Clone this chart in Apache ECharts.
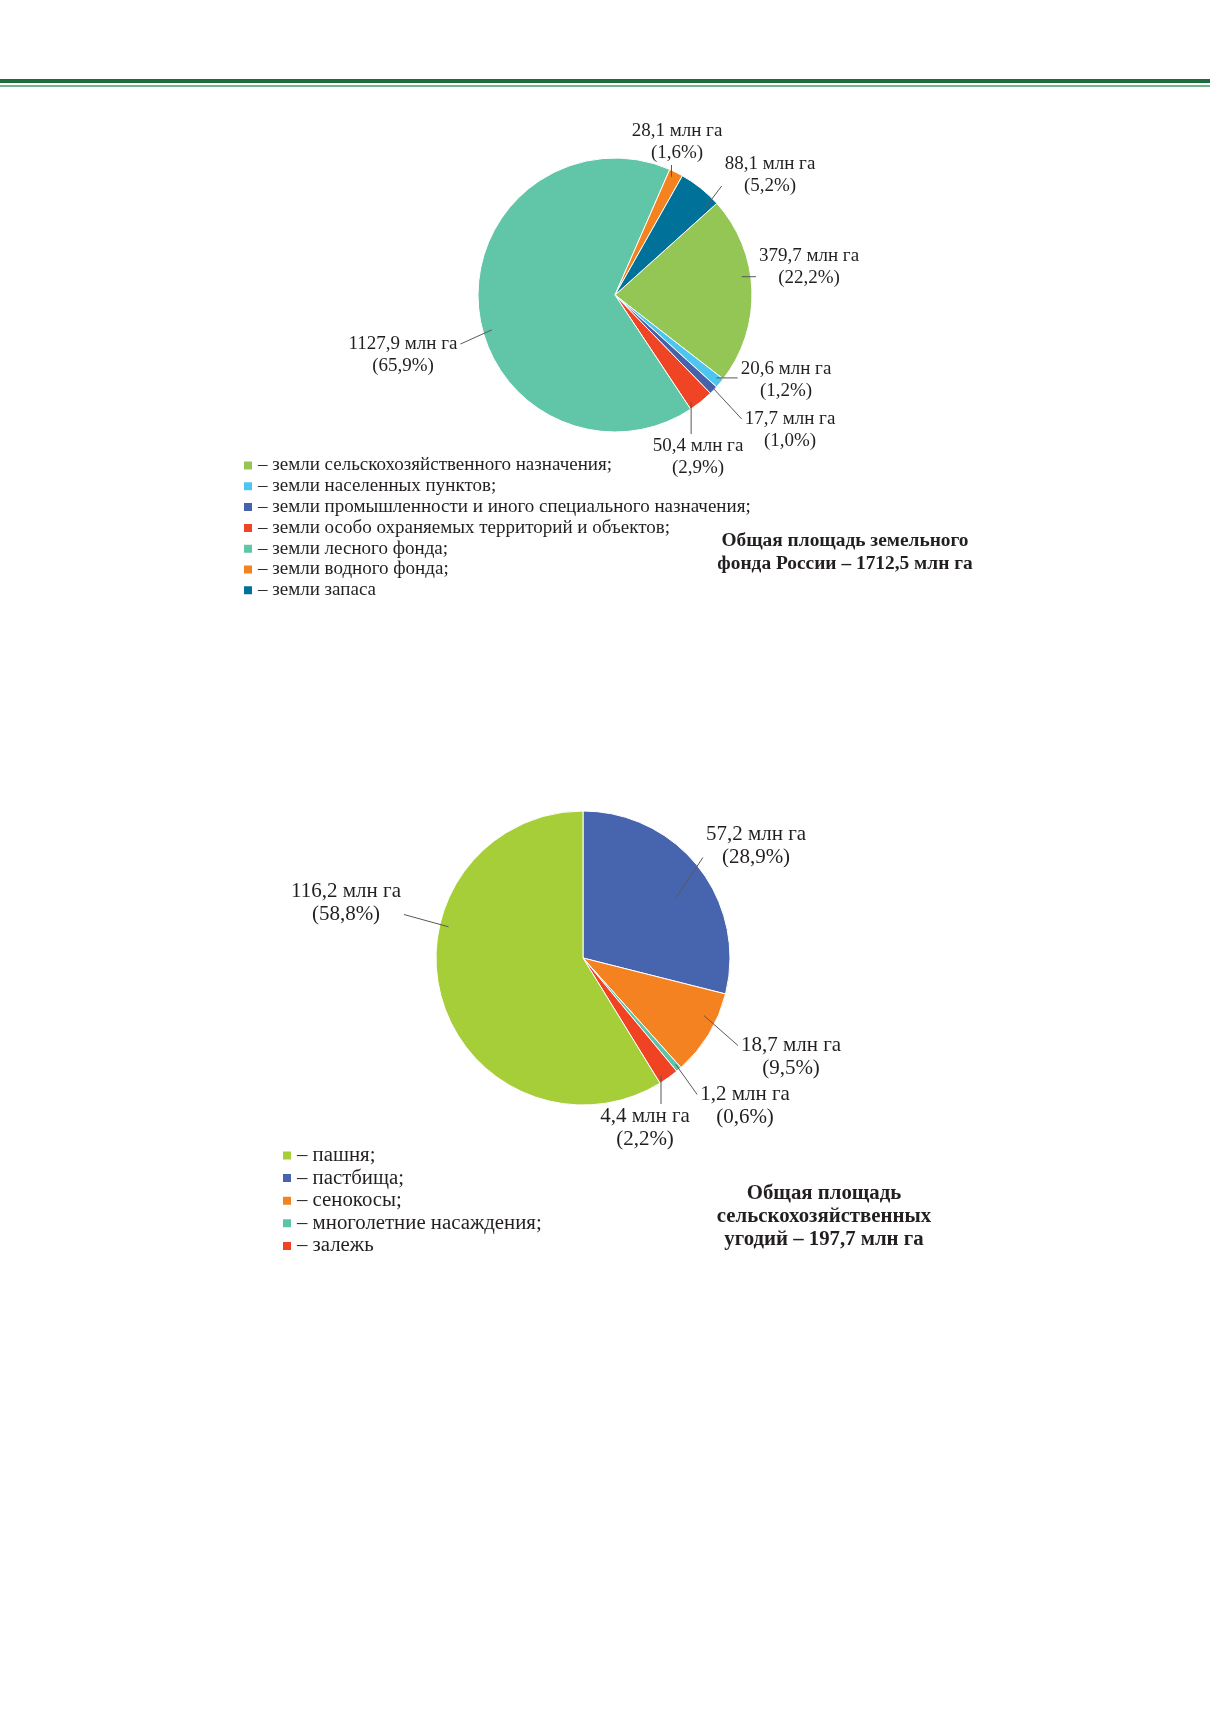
<!DOCTYPE html>
<html>
<head>
<meta charset="utf-8">
<title>Земельный фонд России</title>
<script src="https://cdn.jsdelivr.net/npm/echarts@6/dist/echarts.min.js"></script>
<style>
  html, body { margin: 0; padding: 0; background: #fff; }
  #chart { width: 1210px; height: 1712px; }
</style>
</head>
<body>
<div id="chart"></div>
<script>
// --- data: land fund by category (clockwise from the green slice)
var landNames = [
  'земли сельскохозяйственного назначения;',
  'земли населенных пунктов;',
  'земли промышленности и иного специального назначения;',
  'земли особо охраняемых территорий и объектов;',
  'земли лесного фонда;',
  'земли водного фонда;',
  'земли запаса'
];
var landValues = [379.7, 20.6, 17.7, 50.4, 1127.9, 28.1, 88.1];
var landPct = ['22,2', '1,2', '1,0', '2,9', '65,9', '1,6', '5,2'];

// --- data: agricultural land (clockwise from 12 o'clock)
var agroNames = ['пастбища;', 'сенокосы;', 'многолетние насаждения;', 'залежь', 'пашня;'];
var agroValues = [57.2, 18.7, 1.2, 4.4, 116.2];
var agroPct = ['28,9', '9,5', '0,6', '2,2', '58,8'];
var agroLegendOrder = ['пашня;', 'пастбища;', 'сенокосы;', 'многолетние насаждения;', 'залежь'];

// --- styles / layout
var landColors = ['#93c655', '#4cc6ef', '#4562aa', '#ef4524', '#61c5a7', '#f4821f', '#00729a'];
var agroColors = ['#4764ae', '#f58220', '#5ec4a9', '#ef4324', '#a6ce39'];

// label anchor offsets from pie centre, and how far inside the slice each leader line starts
var landLabelOffsets = [[194, -28], [171, 85], [175, 135], [83, 162], [-212, 60], [62, -153], [155, -120]];
var agroLabelOffsets = [[173, -112], [208, 99], [162, 148], [62, 170], [-237, -55]];
var landInsets = [9, 6, 6, 6, 9, 6, 12];
var agroInsets = [36, 13, 6, 6, 9];

var pies = [
  { cx: 615, cy: 295, r: 137, start: 42, insets: landInsets, values: landValues, offsets: landLabelOffsets },
  { cx: 583, cy: 958, r: 147, start: 90, insets: agroInsets, values: agroValues, offsets: agroLabelOffsets }
];

var FONT = 'Liberation Serif';
var TEXT = '#231f20';
var LINE = '#595959';

function fmt(v) {
  return v.toFixed(1).replace('.', ',');
}

function sliceRange(p, i) {
  var total = 0, acc = 0;
  p.values.forEach(function (v, k) {
    total += v;
    if (k < i) acc += v;
  });
  var a0 = p.start - acc / total * 360;
  var a1 = a0 - p.values[i] / total * 360;
  return [a1, a0];
}

function clamp(v, lo, hi) {
  return Math.max(lo, Math.min(hi, v));
}

// label series are index 2 and 3, they map onto pies[0] and pies[1]
function layoutLabel(params) {
  var p = pies[params.seriesIndex - 2];
  var i = params.dataIndex;
  var off = p.offsets[i];
  var x = p.cx + off[0];
  var y = p.cy + off[1];
  var rg = sliceRange(p, i);
  var mid = (rg[0] + rg[1]) / 2;
  var pad = Math.min(2, (rg[1] - rg[0]) / 3);
  var ang = Math.atan2(-off[1], off[0]) * 180 / Math.PI;
  while (ang > mid + 180) ang -= 360;
  while (ang < mid - 180) ang += 360;
  ang = clamp(ang, rg[0] + pad, rg[1] - pad) * Math.PI / 180;
  var rr = p.r - p.insets[i];
  var p0 = [p.cx + rr * Math.cos(ang), p.cy - rr * Math.sin(ang)];
  var w = params.labelRect.width, h = params.labelRect.height;
  var left = x - w / 2, right = x + w / 2;
  var p1;
  if (p0[0] >= left && p0[0] <= right) {
    p1 = [p0[0], p0[1] < y ? y - h / 2 - 1 : y + h / 2 + 1];
  } else {
    p1 = [p0[0] < left ? left - 3 : right + 3, clamp(p0[1], y - h / 4, y + h / 4)];
  }
  return {
    x: x,
    y: y,
    align: 'center',
    verticalAlign: 'middle',
    labelLinePoints: [p0, p1]
  };
}

function pieData(names, values, colors) {
  return names.map(function (n, i) {
    return { name: n, value: values[i], itemStyle: { color: colors ? colors[i] : 'rgba(0,0,0,0)' } };
  });
}

function slicesSeries(p, data) {
  return {
    type: 'pie',
    z: 2,
    center: [p.cx, p.cy],
    radius: p.r,
    startAngle: p.start,
    clockwise: true,
    data: data,
    itemStyle: { borderColor: '#ffffff', borderWidth: 1 },
    label: { show: false },
    labelLine: { show: false },
    emphasis: { disabled: true }
  };
}

// same pie drawn transparent on top, only to carry labels and leader lines above the slices
function labelSeries(p, data, pct, fontSize, lineHeight) {
  return {
    type: 'pie',
    z: 5,
    silent: true,
    center: [p.cx, p.cy],
    radius: p.r,
    startAngle: p.start,
    clockwise: true,
    avoidLabelOverlap: false,
    data: data,
    itemStyle: { borderWidth: 0 },
    label: {
      position: 'outside',
      fontFamily: FONT,
      fontSize: fontSize,
      lineHeight: lineHeight,
      color: TEXT,
      formatter: function (prm) {
        return fmt(prm.value) + ' млн га\n(' + pct[prm.dataIndex] + '%)';
      }
    },
    labelLine: { show: true, lineStyle: { color: LINE, width: 1, opacity: 1 } },
    labelLayout: layoutLabel,
    emphasis: { disabled: true }
  };
}

var chart = echarts.init(document.getElementById('chart'), null, { renderer: 'canvas' });

var option = {
  animation: false,
  backgroundColor: '#ffffff',
  graphic: [
    { type: 'rect', shape: { x: 0, y: 79, width: 1210, height: 4 }, style: { fill: '#1d6c3d' } },
    { type: 'rect', shape: { x: 0, y: 85, width: 1210, height: 2 }, style: { fill: '#78b189' } }
  ],
  title: [
    {
      text: 'Общая площадь земельного\nфонда России – 1712,5 млн га',
      left: 845,
      top: 529,
      padding: 0,
      textAlign: 'center',
      textStyle: { fontFamily: FONT, fontSize: 19.4, fontWeight: 'bold', color: TEXT, lineHeight: 23 }
    },
    {
      text: 'Общая площадь\nсельскохозяйственных\nугодий – 197,7 млн га',
      left: 824,
      top: 1182,
      padding: 0,
      textAlign: 'center',
      textStyle: { fontFamily: FONT, fontSize: 20.8, fontWeight: 'bold', color: TEXT, lineHeight: 23 }
    }
  ],
  legend: [
    {
      data: landNames,
      orient: 'vertical',
      left: 242,
      top: 456,
      padding: 0,
      icon: 'rect',
      itemWidth: 10,
      itemHeight: 10,
      itemGap: 1.8,
      selectedMode: false,
      formatter: '– {name}',
      textStyle: { fontFamily: FONT, fontSize: 19, lineHeight: 19, color: TEXT }
    },
    {
      data: agroLegendOrder,
      orient: 'vertical',
      left: 281,
      top: 1145,
      padding: 0,
      icon: 'rect',
      itemWidth: 10,
      itemHeight: 10,
      itemGap: 1.6,
      selectedMode: false,
      formatter: '– {name}',
      textStyle: { fontFamily: FONT, fontSize: 20.8, lineHeight: 20.8, color: TEXT }
    }
  ],
  series: [
    slicesSeries(pies[0], pieData(landNames, landValues, landColors)),
    slicesSeries(pies[1], pieData(agroNames, agroValues, agroColors)),
    labelSeries(pies[0], pieData(landNames, landValues, null), landPct, 19, 22),
    labelSeries(pies[1], pieData(agroNames, agroValues, null), agroPct, 21, 23)
  ]
};

chart.setOption(option);
</script>
</body>
</html>
